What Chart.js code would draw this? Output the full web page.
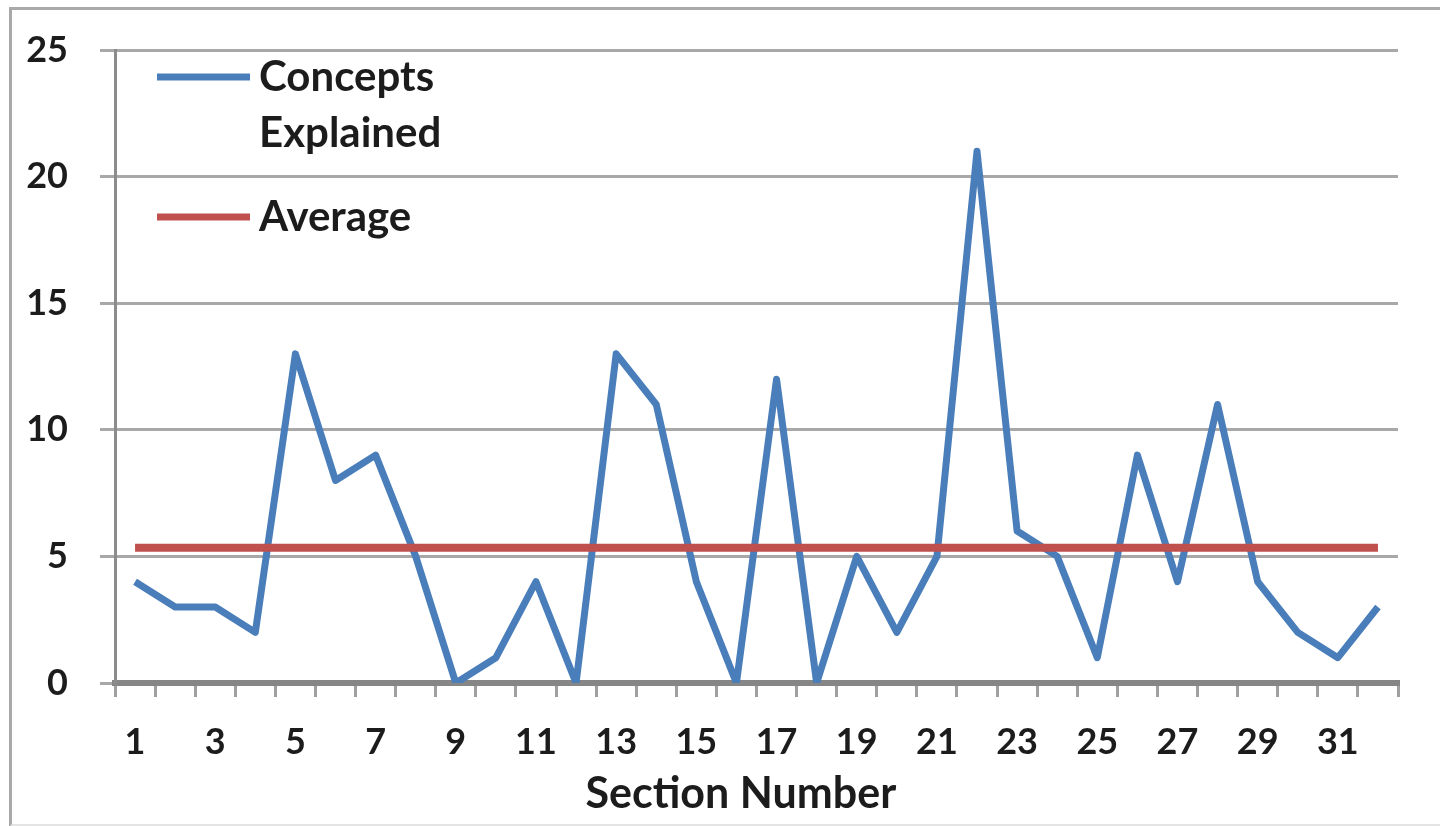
<!DOCTYPE html>
<html>
<head>
<meta charset="utf-8">
<script src="https://cdn.jsdelivr.net/npm/chart.js@4"></script>
<style>
    html, body { margin: 0; padding: 0; background: #fff; overflow: hidden; }
    #wrap { position: relative; width: 1440px; height: 826px; }
    #frame {
        position: absolute; left: 9px; top: 7px; width: 1460px; height: 814px;
        border: 3px solid #a9a9a9; border-bottom-color: #e4e4e4;
    }
    canvas { position: absolute; left: 0; top: 0; }
</style>
</head>
<body>
<div id="wrap">
    <div id="frame"></div>
    <canvas id="lineChart" width="1440" height="826"></canvas>
</div>
<script>
// Section numbers along the x axis
const sections = ['1', '2', '3', '4', '5', '6', '7', '8', '9', '10', '11', '12', '13', '14', '15', '16',
    '17', '18', '19', '20', '21', '22', '23', '24', '25', '26', '27', '28', '29', '30', '31', '32'];

// Concepts explained per section
const conceptsExplained = [4, 3, 3, 2, 13, 8, 9, 5, 0, 1, 4, 0, 13, 11, 4, 0,
    12, 0, 5, 2, 5, 21, 6, 5, 1, 9, 4, 11, 4, 2, 1, 3];

// Flat average line
const averageLine = [5.34, 5.34, 5.34, 5.34, 5.34, 5.34, 5.34, 5.34, 5.34, 5.34, 5.34, 5.34, 5.34, 5.34, 5.34, 5.34,
    5.34, 5.34, 5.34, 5.34, 5.34, 5.34, 5.34, 5.34, 5.34, 5.34, 5.34, 5.34, 5.34, 5.34, 5.34, 5.34];

const yTicks = [0, 5, 10, 15, 20, 25];

const textColor = '#1c1c1c';
const fontFamily = 'Lato, "Open Sans", sans-serif';

// Legend drawn inside the plot, top-left, like the original
const insideLegend = {
    id: 'insideLegend',
    afterDatasetsDraw(chart) {
        const ctx = chart.ctx;
        const area = chart.chartArea;
        const x0 = area.left + 42;
        const x1 = area.left + 135;
        const tx = area.left + 144;
        const items = [
            { color: '#4a7ebb', lines: ['Concepts', 'Explained'], y: area.top + 27 },
            { color: '#c0504d', lines: ['Average'], y: area.top + 167 }
        ];
        ctx.save();
        ctx.font = 'bold 42px ' + fontFamily;
        ctx.fillStyle = textColor;
        ctx.textBaseline = 'middle';
        ctx.textAlign = 'left';
        items.forEach(function (item) {
            ctx.strokeStyle = item.color;
            ctx.lineWidth = 7;
            ctx.beginPath();
            ctx.moveTo(x0, item.y);
            ctx.lineTo(x1, item.y);
            ctx.stroke();
            item.lines.forEach(function (line, i) {
                ctx.fillText(line, tx, item.y + i * 56);
            });
        });
        ctx.restore();
    }
};

const ctx = document.getElementById('lineChart').getContext('2d');

new Chart(ctx, {
    type: 'line',
    data: {
        labels: sections,
        datasets: [{
            label: 'Concepts Explained',
            data: conceptsExplained,
            borderColor: '#4a7ebb',
            borderWidth: 7,
            borderJoinStyle: 'round',
            pointRadius: 0,
            tension: 0,
            order: 2
        }, {
            label: 'Average',
            data: averageLine,
            borderColor: '#c0504d',
            borderWidth: 8,
            pointRadius: 0,
            tension: 0,
            order: 1
        }]
    },
    options: {
        responsive: false,
        animation: false,
        layout: {
            padding: { left: 0, right: 42, top: 50, bottom: 0 }
        },
        plugins: {
            legend: { display: false },
            tooltip: { enabled: false }
        },
        scales: {
            x: {
                offset: true,
                grid: {
                    offset: true,
                    drawOnChartArea: false,
                    drawTicks: true,
                    tickLength: 14,
                    color: '#a0a0a0',
                    lineWidth: 3
                },
                border: { color: '#868686', width: 6 },
                ticks: {
                    autoSkip: false,
                    maxRotation: 0,
                    padding: 24,
                    color: textColor,
                    font: { family: fontFamily, size: 36, weight: 'bold' },
                    callback: function (value, index) {
                        return index % 2 === 0 ? sections[index] : '';
                    }
                },
                title: {
                    display: true,
                    // trailing spaces nudge the title a little left, as in the original
                    text: 'Section Number   ',
                    color: textColor,
                    padding: { top: 0, bottom: 6 },
                    font: { family: fontFamily, size: 43, weight: 'bold' }
                },
                afterFit: function (scale) { scale.height = 143; }
            },
            y: {
                min: 0,
                max: 25,
                afterBuildTicks: function (scale) {
                    scale.ticks = yTicks.map(function (v) { return { value: v }; });
                },
                grid: {
                    color: '#a8a8a8',
                    lineWidth: 3,
                    tickLength: 15
                },
                border: { color: '#8c8c8c', width: 3 },
                ticks: {
                    padding: 32,
                    color: textColor,
                    font: { family: fontFamily, size: 36, weight: 'bold' }
                },
                afterFit: function (scale) {
                    scale.width = 115;
                    scale.paddingTop = 0;
                    scale.paddingBottom = 0;
                }
            }
        }
    },
    plugins: [insideLegend]
});
</script>
</body>
</html>
